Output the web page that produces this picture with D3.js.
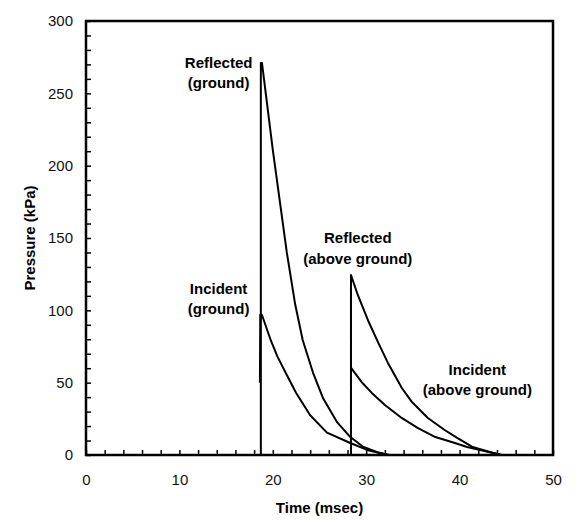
<!DOCTYPE html>
<html>
<head>
  <meta charset="utf-8">
  <title>Blast pressure vs time</title>
  <script src="https://d3js.org/d3.v7.min.js"></script>
  <style>
    body { margin: 0; background: #fff; }
    text { font-family: "Liberation Sans", Arial, sans-serif; }
    .tick text { font-size: 15px; fill: #111; }
    .label { font-size: 15px; font-weight: bold; text-anchor: middle; }
    .curve { fill: none; stroke: #000; stroke-width: 2px; stroke-linejoin: round; }
  </style>
</head>
<body>
  <script>
    // [time (msec), pressure (kPa)]
    const reflectedGround = [
      [18.72, 0], [18.72, 271], [18.84, 271], [20.0, 211], [21.5, 140], [22.4, 104],
      [23.2, 79.5], [24.3, 57], [25.4, 39], [26.9, 22.5], [28.3, 12.4],
      [29.7, 5.5], [31.2, 2], [32.5, 0]
    ];
    const incidentGround = [
      [18.62, 50], [18.66, 97], [18.84, 96.8], [19.8, 79], [20.5, 68], [21.5, 55.3],
      [22.5, 42.9], [24.0, 27.5], [25.8, 15.5], [28.3, 8.3], [30.1, 3.5], [32.3, 0]
    ];
    const reflectedAbove = [
      [28.37, 0], [28.37, 124.4], [29.1, 110.6], [30.2, 93], [31.3, 77.5], [32.3, 64],
      [33.8, 46.5], [34.9, 36.6], [36.6, 25.6], [38.4, 17.3], [39.7, 12],
      [41.4, 5.5], [43.6, 1.4], [44.5, 0]
    ];
    const incidentAbove = [
      [28.4, 60], [29.5, 50.5], [30.6, 42.9], [32.0, 34.6], [33.8, 25.6],
      [35.5, 18.7], [37.4, 12.4], [39.5, 8.3], [40.8, 5.5], [43.6, 1.4], [44.5, 0]
    ];
    const series = [reflectedGround, incidentGround, reflectedAbove, incidentAbove];

    const xTicks = d3.range(0, 51, 2);
    const yTicks = d3.range(0, 301, 10);

    const labels = [
      { lines: ["Reflected", "(ground)"], t: 14.2, p: 271 },
      { lines: ["Incident", "(ground)"], t: 14.2, p: 115 },
      { lines: ["Reflected", "(above ground)"], t: 29.1, p: 150 },
      { lines: ["Incident", "(above ground)"], t: 41.9, p: 59 }
    ];

    const width = 586, height = 527;
    const margin = { top: 21, right: 33, bottom: 72, left: 86 };

    const x = d3.scaleLinear().domain([0, 50]).range([margin.left, width - margin.right]);
    const y = d3.scaleLinear().domain([0, 300]).range([height - margin.bottom, margin.top]);

    const svg = d3.select("body").append("svg")
      .attr("width", width)
      .attr("height", height);

    // x axis, ticks inward
    const xAxis = svg.append("g")
      .attr("transform", `translate(0,${y(0)})`)
      .call(d3.axisBottom(x)
        .tickValues(xTicks)
        .tickSizeInner(-5)
        .tickSizeOuter(0)
        .tickPadding(19)
        .tickFormat(d => d % 10 === 0 ? d : ""));

    const yAxis = svg.append("g")
      .attr("transform", `translate(${x(0)},0)`)
      .call(d3.axisLeft(y)
        .tickValues(yTicks)
        .tickSizeInner(-5)
        .tickSizeOuter(0)
        .tickPadding(13)
        .tickFormat(d => d % 50 === 0 ? d : ""));

    [xAxis, yAxis].forEach(a => {
      a.select(".domain").remove();
      a.selectAll(".tick line").attr("stroke", "#000").attr("stroke-width", 1.5);
    });

    // frame
    svg.append("rect")
      .attr("x", x(0))
      .attr("y", y(300))
      .attr("width", x(50) - x(0))
      .attr("height", y(0) - y(300))
      .attr("fill", "none")
      .attr("stroke", "#000")
      .attr("stroke-width", 2.5);

    const line = d3.line()
      .x(d => x(d[0]))
      .y(d => y(d[1]));

    svg.selectAll(".curve")
      .data(series)
      .join("path")
      .attr("class", "curve")
      .attr("d", line);

    // annotations
    labels.forEach(l => {
      const t = svg.append("text")
        .attr("class", "label")
        .attr("x", x(l.t))
        .attr("y", y(l.p));
      l.lines.forEach((s, i) => {
        t.append("tspan")
          .attr("x", x(l.t))
          .attr("dy", i === 0 ? "0.35em" : "1.35em")
          .text(s);
      });
    });

    // axis titles
    svg.append("text")
      .attr("class", "label")
      .attr("x", (x(0) + x(50)) / 2)
      .attr("y", 513)
      .text("Time (msec)");

    svg.append("text")
      .attr("class", "label")
      .attr("transform", `translate(35,${(y(0) + y(300)) / 2}) rotate(-90)`)
      .text("Pressure (kPa)");
  </script>
</body>
</html>
